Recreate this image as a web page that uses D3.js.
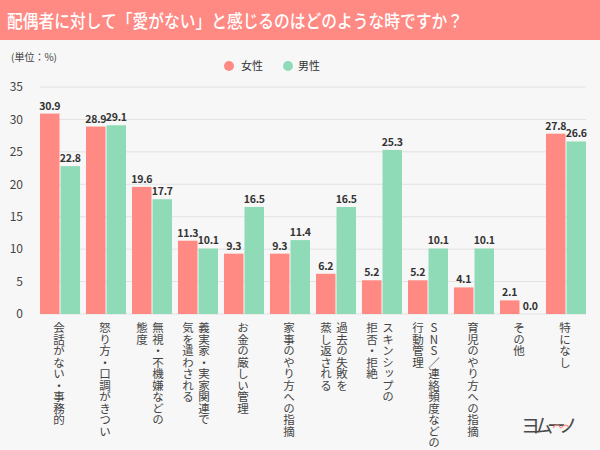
<!DOCTYPE html>
<html><head><meta charset="utf-8">
<script src="https://cdn.jsdelivr.net/npm/d3@7"></script>
<style>
html,body{margin:0;padding:0;background:#f7f7f7;}
svg{display:block;font-family:"Noto Sans CJK JP","Noto Sans",sans-serif;}
</style></head>
<body><svg id="c" width="600" height="450"></svg>
<script>
const title = "配偶者に対して「愛がない」と感じるのはどのような時ですか？";
const unitLabel = "(単位：%)";
const seriesNames = ["女性", "男性"];
const categories = [
  ["会話がない・事務的"],
  ["怒り方・口調がきつい"],
  ["無視・不機嫌などの", "態度"],
  ["義実家・実家関連で", "気を遣わされる"],
  ["お金の厳しい管理"],
  ["家事のやり方への指摘"],
  ["過去の失敗を", "蒸し返される"],
  ["スキンシップの", "拒否・拒絶"],
  ["SNS／連絡頻度などの", "行動管理"],
  ["育児のやり方への指摘"],
  ["その他"],
  ["特になし"]
];
const female = [30.9, 28.9, 19.6, 11.3, 9.3, 9.3, 6.2, 5.2, 5.2, 4.1, 2.1, 27.8];
const male   = [22.8, 29.1, 17.7, 10.1, 16.5, 11.4, 16.5, 25.3, 10.1, 10.1, 0.0, 26.6];
const yTicks = [0, 5, 10, 15, 20, 25, 30, 35];
const colors = ["#ff8983", "#8fdbb8"];

const svg = d3.select("#c");
svg.append("rect").attr("width", 600).attr("height", 450).attr("fill", "#f7f7f7");
svg.append("rect").attr("width", 600).attr("height", 40).attr("fill", "#ff8983");
svg.append("text").attr("x", 7).attr("y", 27.5).attr("fill", "#fff")
  .attr("font-size", 18.5).attr("font-weight", 500)
  .attr("textLength", 456).attr("lengthAdjust", "spacingAndGlyphs")
  .text(title);

svg.append("text").attr("x", 11).attr("y", 61).attr("font-size", 10)
  .attr("fill", "#444").text(unitLabel);

// legend
const leg = [[229, 241], [288, 298]];
seriesNames.forEach((n, i) => {
  svg.append("circle").attr("cx", leg[i][0]).attr("cy", 66).attr("r", 5).attr("fill", colors[i]);
  svg.append("text").attr("x", leg[i][1]).attr("y", 70).attr("font-size", 11)
    .attr("fill", "#333").text(n);
});

const y = d3.scaleLinear().domain([0, 35]).range([314, 87]);
const x0 = d3.scaleBand().domain(d3.range(categories.length)).range([40, 586]).paddingInner(0.13).paddingOuter(0);
const x1 = d3.scaleBand().domain([0, 1]).range([0, x0.bandwidth()]).paddingInner(0.05);

// grid
svg.append("g").selectAll("line").data(yTicks).join("line")
  .attr("x1", 40).attr("x2", 586).attr("y1", d => y(d)).attr("y2", d => y(d))
  .attr("stroke", "#e2e2e2").attr("stroke-width", 1);

// y axis labels
const yAxis = d3.axisLeft(y).tickValues(yTicks).tickSize(0).tickPadding(0);
const ga = svg.append("g").attr("transform", "translate(23,0)").call(yAxis);
ga.select(".domain").remove();
ga.selectAll("text").attr("font-size", 12).attr("fill", "#444")
  .attr("font-family", "'Noto Sans CJK JP','Noto Sans',sans-serif");

// bars
const data = categories.map((c, i) => ({i, vals: [female[i], male[i]]}));
const g = svg.append("g").selectAll("g").data(data).join("g")
  .attr("transform", d => `translate(${x0(d.i)},0)`);
g.selectAll("rect").data(d => d.vals.map((v, k) => ({v, k}))).join("rect")
  .attr("x", d => x1(d.k)).attr("width", x1.bandwidth())
  .attr("y", d => y(d.v)).attr("height", d => y(0) - y(d.v))
  .attr("fill", d => colors[d.k]);
g.selectAll("text.v").data(d => d.vals.map((v, k) => ({v, k}))).join("text")
  .attr("class", "v")
  .attr("x", d => x1(d.k) + x1.bandwidth() / 2).attr("y", d => y(d.v) - 4)
  .attr("text-anchor", "middle").attr("font-size", 10.5).attr("font-weight", "bold")
  .attr("letter-spacing", -0.2)
  .attr("fill", "#333").text(d => d.v.toFixed(1));

// category labels (vertical)
data.forEach(d => {
  const cx = x0(d.i) + x0.bandwidth() / 2;
  const lines = categories[d.i];
  const n = lines.length;
  lines.forEach((t, j) => {
    const off = n === 1 ? 0 : (j === 0 ? 7 : -9);
    svg.append("text")
      .attr("x", cx + off - 1).attr("y", 322)
      .style("writing-mode", "vertical-rl")
      .style("text-orientation", "upright")
      .attr("font-size", 11.5).attr("fill", "#444")
      .text(t);
  });
});

// logo
const logo = svg.append("g");
logo.append("text").attr("x", 521).attr("y", 433).attr("font-size", 19)
  .attr("fill", "#4a4a4a").attr("textLength", 57).attr("lengthAdjust", "spacing")
  .text("ヨムーノ");
logo.append("path").attr("d", "M553,428 q4,-6 8,0 q4,-5 8,-1").attr("fill", "none")
  .attr("stroke", "#ff8983").attr("stroke-width", 1.2);
</script></body></html>
